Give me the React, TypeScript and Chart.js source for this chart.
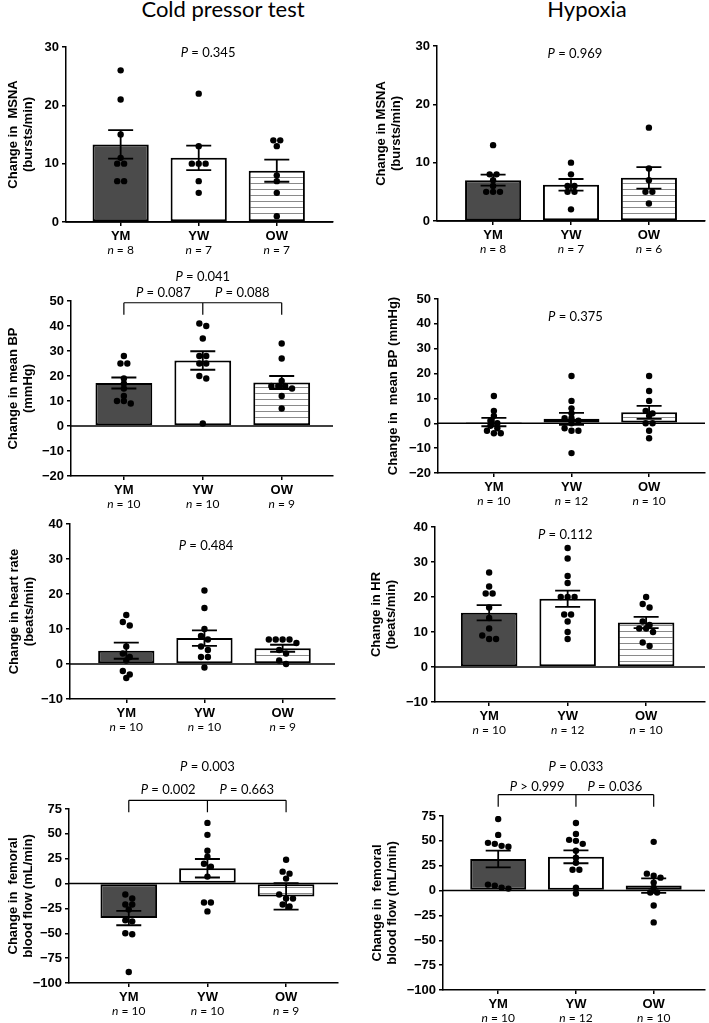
import React, { useEffect, useRef } from 'react';
import { Chart, registerables } from 'chart.js';

Chart.register(...registerables);

// ---------- data ----------
const groups = ['YM', 'YW', 'OW'];

// Cold pressor test – MSNA
const cptMsnaMean = [13.3, 11.0, 8.8];
const cptMsnaSem = [2.45, 2.1, 1.9];
const cptMsnaN = [8, 7, 7];
const cptMsnaYM = [26, 21, 15, 11, 10, 10, 7, 7];
const cptMsnaYW = [22, 13, 10, 10, 10, 7, 5];
const cptMsnaOW = [14, 14, 13, 8, 7, 5, 1];
const msnaTicks = [0, 10, 20, 30];

// Hypoxia – MSNA
const hypMsnaMean = [7.0, 6.2, 7.4];
const hypMsnaSem = [0.95, 1.0, 1.85];
const hypMsnaN = [8, 7, 6];
const hypMsnaYM = [13, 8, 8, 7, 6, 5, 5, 5];
const hypMsnaYW = [10, 8, 6, 6, 5, 5, 2];
const hypMsnaOW = [16, 9, 7, 5, 5, 3];

// Cold pressor test – mean BP
const cptMapMean = [17.2, 26.2, 17.4];
const cptMapSem = [2.2, 3.7, 2.6];
const cptMapN = [10, 10, 9];
const cptMapYM = [28, 25, 25, 19, 17, 15, 12, 10, 10, 9];
const cptMapYW = [41, 40, 35, 28, 28, 25, 25, 20, 19, 1];
const cptMapOW = [33, 27, 18, 16, 16, 16, 15, 12, 7];
const mapTicks = [-20, -10, 0, 10, 20, 30, 40, 50];

// Hypoxia – mean BP
const hypMapMean = [0.5, 1.8, 4.4];
const hypMapSem = [1.7, 2.4, 2.6];
const hypMapN = [10, 12, 10];
const hypMapYM = [11, 5, 3, 1, 0, -1, -2, -3, -4, -4];
const hypMapYW = [19, 9, 6, 4, 2, 2, 1, 0, -2, -3, -3, -12];
const hypMapOW = [19, 13, 9, 5, 4, 3, 0, 0, -3, -6];

// Cold pressor test – heart rate
const cptHrMean = [3.8, 7.4, 4.5];
const cptHrSem = [2.3, 2.2, 1.0];
const cptHrN = [10, 10, 9];
const cptHrYM = [14, 12, 11, 5, 3, 2, 1, -2, -3, -4];
const cptHrYW = [21, 16, 10, 8, 7, 5, 4, 2, 2, -1];
const cptHrOW = [7, 7, 7, 7, 6, 4, 3, 1, 0];
const hrTicks = [-10, 0, 10, 20, 30, 40];

// Hypoxia – heart rate
const hypHrMean = [15.5, 19.5, 12.7];
const hypHrSem = [2.2, 2.3, 1.6];
const hypHrN = [10, 12, 10];
const hypHrYM = [27, 23, 21, 21, 17, 14, 11, 9, 8, 8];
const hypHrYW = [34, 31, 26, 24, 20, 20, 20, 15, 15, 13, 10, 8];
const hypHrOW = [20, 18, 17, 13, 12, 11, 11, 10, 7, 6];

// Cold pressor test – femoral blood flow
const cptFbfMean = [-34.7, 15.4, -13.0];
const cptFbfSem = [7.2, 9.3, 13.3];
const cptFbfN = [10, 10, 9];
const cptFbfYM = [-11, -15, -21, -21, -26, -37, -38, -50, -51, -89];
const cptFbfYW = [61, 49, 33, 27, 20, 17, 7, -19, -19, -28];
const cptFbfOW = [24, 12, 10, 5, -11, -15, -15, -21, -23];
const fbfTicks = [-100, -75, -50, -25, 0, 25, 50, 75];

// Hypoxia – femoral blood flow
const hypFbfMean = [31.8, 34.0, 5.0];
const hypFbfSem = [8.4, 6.5, 7.3];
const hypFbfN = [10, 12, 10];
const hypFbfYM = [72, 56, 48, 47, 45, 44, 6, 5, 3, 2];
const hypFbfYW = [68, 57, 51, 50, 47, 40, 33, 28, 21, 21, 3, -3];
const hypFbfOW = [49, 17, 15, 13, 8, 3, -2, -2, -15, -32];

// ---------- layout ----------
type Rect = { left: number; top: number; w: number; h: number };
type Area = { l: number; t: number; r: number; b: number };
type Bracket = { level: number; pairGap: number; topGap: number; pairs: { from: number; to: number; text: string }[]; overall: string };
type Panel = {
  rect: Rect;
  area: Area;
  xMin: number;
  xMax: number;
  yTicks: number[];
  yTitle: string[];
  yTitlePad: number;
  means: number[];
  sems: number[];
  ns: number[];
  points: number[][];
  pLabel?: { text: string; x: number; y: number };
  bracket?: Bracket;
};

const panels: Panel[] = [
  {
    rect: { left: 0, top: 28, w: 352, h: 236 }, area: { l: 66, t: 47, r: 333, b: 222 },
    xMin: -0.7, xMax: 2.72, yTicks: msnaTicks, yTitle: ['Change in  MSNA', '(bursts/min)'], yTitlePad: 5.5,
    means: cptMsnaMean, sems: cptMsnaSem, ns: cptMsnaN, points: [cptMsnaYM, cptMsnaYW, cptMsnaOW],
    pLabel: { text: 'P = 0.345', x: 1.12, y: 29 },
  },
  {
    rect: { left: 355, top: 28, w: 354, h: 236 }, area: { l: 437, t: 46, r: 705, b: 221 },
    xMin: -0.72, xMax: 2.72, yTicks: msnaTicks, yTitle: ['Change in MSNA', '(bursts/min)'], yTitlePad: 18.5,
    means: hypMsnaMean, sems: hypMsnaSem, ns: hypMsnaN, points: [hypMsnaYM, hypMsnaYW, hypMsnaOW],
    pLabel: { text: 'P = 0.969', x: 1.05, y: 28.6 },
  },
  {
    rect: { left: 0, top: 262, w: 352, h: 250 }, area: { l: 71, t: 301, r: 333, b: 476 },
    xMin: -0.67, xMax: 2.65, yTicks: mapTicks, yTitle: ['Change in mean BP', '(mmHg)'], yTitlePad: 5.5,
    means: cptMapMean, sems: cptMapSem, ns: cptMapN, points: [cptMapYM, cptMapYW, cptMapOW],
    bracket: { level: 49.3, pairGap: 10, topGap: 26, pairs: [{ from: 0, to: 1, text: 'P = 0.087' }, { from: 1, to: 2, text: 'P = 0.088' }], overall: 'P = 0.041' },
  },
  {
    rect: { left: 355, top: 262, w: 354, h: 250 }, area: { l: 438, t: 299, r: 705, b: 473 },
    xMin: -0.72, xMax: 2.72, yTicks: mapTicks, yTitle: ['Change in  mean BP (mmHg)'], yTitlePad: 30.5,
    means: hypMapMean, sems: hypMapSem, ns: hypMapN, points: [hypMapYM, hypMapYW, hypMapOW],
    pLabel: { text: 'P = 0.375', x: 1.05, y: 42.9 },
  },
  {
    rect: { left: 0, top: 512, w: 352, h: 235 }, area: { l: 70, t: 524, r: 335, b: 699 },
    xMin: -0.72, xMax: 2.67, yTicks: hrTicks, yTitle: ['Change in heart rate', '(beats/min)'], yTitlePad: 7,
    means: cptHrMean, sems: cptHrSem, ns: cptHrN, points: [cptHrYM, cptHrYW, cptHrOW],
    pLabel: { text: 'P = 0.484', x: 1.02, y: 33.9 },
  },
  {
    rect: { left: 355, top: 512, w: 354, h: 235 }, area: { l: 435, t: 527, r: 705, b: 702 },
    xMin: -0.69, xMax: 2.75, yTicks: hrTicks, yTitle: ['Change in HR', '(beats/min)'], yTitlePad: 13.5,
    means: hypHrMean, sems: hypHrSem, ns: hypHrN, points: [hypHrYM, hypHrYW, hypHrOW],
    pLabel: { text: 'P = 0.112', x: 0.97, y: 37.9 },
  },
  {
    rect: { left: 0, top: 750, w: 352, h: 273 }, area: { l: 69, t: 809, r: 338, b: 983 },
    xMin: -0.76, xMax: 2.66, yTicks: fbfTicks, yTitle: ['Change in  femoral', 'blood flow (mL/min)'], yTitlePad: 5.5,
    means: cptFbfMean, sems: cptFbfSem, ns: cptFbfN, points: [cptFbfYM, cptFbfYW, cptFbfOW],
    bracket: { level: 83.7, pairGap: 11, topGap: 34, pairs: [{ from: 0, to: 1, text: 'P = 0.002' }, { from: 1, to: 2, text: 'P = 0.663' }], overall: 'P = 0.003' },
  },
  {
    rect: { left: 355, top: 750, w: 354, h: 273 }, area: { l: 443, t: 816, r: 708, b: 990 },
    xMin: -0.71, xMax: 2.66, yTicks: fbfTicks, yTitle: ['Change in  femoral', 'blood flow (mL/min)'], yTitlePad: 15,
    means: hypFbfMean, sems: hypFbfSem, ns: hypFbfN, points: [hypFbfYM, hypFbfYW, hypFbfOW],
    bracket: { level: 96.4, pairGap: 8, topGap: 28, pairs: [{ from: 0, to: 1, text: 'P > 0.999' }, { from: 1, to: 2, text: 'P = 0.036' }], overall: 'P = 0.033' },
  },
];

const SANS = '"Liberation Sans", Arial, sans-serif';
const TEXT = 'Lato, "Open Sans", sans-serif';
const DOT_R = 3.2;

function makeHatch(ctx: CanvasRenderingContext2D) {
  const c = document.createElement('canvas');
  c.width = 8;
  c.height = 6;
  const g = c.getContext('2d')!;
  g.fillStyle = '#ffffff';
  g.fillRect(0, 0, 8, 6);
  g.strokeStyle = '#8a8a8a';
  g.lineWidth = 1;
  g.beginPath();
  g.moveTo(0, 5.5);
  g.lineTo(8, 5.5);
  g.stroke();
  return ctx.createPattern(c, 'repeat')!;
}

function drawMixed(ctx: CanvasRenderingContext2D, text: string, cx: number, cy: number, size: number) {
  const first = text.charAt(0);
  const rest = text.slice(1);
  ctx.font = `italic ${size}px ${TEXT}`;
  const w1 = ctx.measureText(first).width;
  ctx.font = `${size}px ${TEXT}`;
  const w2 = ctx.measureText(rest).width;
  const x = cx - (w1 + w2) / 2;
  ctx.textBaseline = 'middle';
  ctx.textAlign = 'left';
  ctx.fillStyle = '#000';
  ctx.font = `italic ${size}px ${TEXT}`;
  ctx.fillText(first, x, cy);
  ctx.font = `${size}px ${TEXT}`;
  ctx.fillText(rest, x + w1, cy);
}

function swarm(vals: number[], gi: number, tolUnits: number, step: number) {
  const sorted = [...vals].sort((a, b) => b - a);
  const rows: number[][] = [];
  for (const v of sorted) {
    const row = rows[rows.length - 1];
    if (row && Math.abs(row[0] - v) <= tolUnits) row.push(v);
    else rows.push([v]);
  }
  const out: { x: number; y: number }[] = [];
  rows.forEach((row) => row.forEach((v, j) => out.push({ x: gi + (j - (row.length - 1) / 2) * step, y: v })));
  return out;
}

const fmt = (v: number) => (v < 0 ? '\u2212' + Math.abs(v) : String(v));

function PanelChart({ p }: { p: Panel }) {
  const ref = useRef<HTMLCanvasElement>(null);
  useEffect(() => {
    const canvas = ref.current!;
    const ctx = canvas.getContext('2d')!;
    const hatch = makeHatch(ctx);
    const yMin = p.yTicks[0];
    const yMax = p.yTicks[p.yTicks.length - 1];
    const pxPerUnit = (p.area.b - p.area.t) / (yMax - yMin);
    const spacingPx = (p.area.r - p.area.l) / (p.xMax - p.xMin);
    const tol = (0.75 * 2 * DOT_R) / pxPerUnit;
    const step = 6.9 / spacingPx;
    const scatter = p.points.flatMap((vals, gi) => swarm(vals, gi, tol, step));

    const overlay = {
      id: 'overlay',
      beforeDatasetsDraw(chart: any) {
        const { ctx: c, chartArea } = chart;
        const ys = chart.scales.y;
        const y0 = ys.getPixelForValue(0);
        c.save();
        c.strokeStyle = '#000';
        c.lineWidth = 1.5;
        c.beginPath();
        c.moveTo(chartArea.left, y0);
        c.lineTo(chartArea.right, y0);
        c.stroke();
        c.restore();
      },
      afterDatasetsDraw(chart: any) {
        const c = chart.ctx;
        const xs = chart.scales.x;
        const ys = chart.scales.y;
        c.save();
        c.strokeStyle = '#000';
        c.lineWidth = 1.8;
        p.means.forEach((m, i) => {
          const x = xs.getPixelForValue(i);
          const y1 = ys.getPixelForValue(m + p.sems[i]);
          const y2 = ys.getPixelForValue(m - p.sems[i]);
          c.beginPath();
          c.moveTo(x, y1);
          c.lineTo(x, y2);
          c.moveTo(x - 12.5, y1);
          c.lineTo(x + 12.5, y1);
          c.moveTo(x - 12.5, y2);
          c.lineTo(x + 12.5, y2);
          c.stroke();
        });
        c.restore();
      },
      afterDraw(chart: any) {
        const c = chart.ctx;
        const xs = chart.scales.x;
        const ys = chart.scales.y;
        const { chartArea } = chart;
        c.save();
        p.ns.forEach((n, i) => {
          drawMixed(c, 'n = ' + n, xs.getPixelForValue(i), chartArea.bottom + 28, 12);
        });
        if (p.pLabel) {
          drawMixed(c, p.pLabel.text, xs.getPixelForValue(p.pLabel.x), ys.getPixelForValue(p.pLabel.y), 13);
        }
        if (p.bracket) {
          const b = p.bracket;
          const y = ys.getPixelForValue(b.level);
          const gx = groups.map((_, i) => xs.getPixelForValue(i));
          c.strokeStyle = '#000';
          c.lineWidth = 1.2;
          c.beginPath();
          c.moveTo(gx[0], y);
          c.lineTo(gx[2], y);
          gx.forEach((x) => {
            c.moveTo(x, y);
            c.lineTo(x, y + 12);
          });
          c.stroke();
          b.pairs.forEach((pr) => {
            drawMixed(c, pr.text, (gx[pr.from] + gx[pr.to]) / 2, y - b.pairGap, 13);
          });
          drawMixed(c, b.overall, gx[1], y - b.topGap, 13);
        }
        c.restore();
      },
    };

    const chart = new Chart(canvas, {
      type: 'bar',
      data: {
        datasets: [
          {
            type: 'bar',
            data: p.means.map((m, i) => ({ x: i, y: m })) as any,
            backgroundColor: ['#4b4b4b', '#ffffff', hatch] as any,
            borderColor: '#000',
            borderWidth: 2,
            borderSkipped: false,
            order: 2,
          } as any,
          {
            type: 'scatter',
            data: scatter as any,
            pointRadius: DOT_R,
            pointBackgroundColor: '#000',
            pointBorderWidth: 0,
            order: 1,
          } as any,
        ],
      },
      options: {
        responsive: false,
        animation: false,
        layout: {
          padding: {
            top: p.area.t - p.rect.top,
            right: p.rect.left + p.rect.w - p.area.r,
            left: 0,
            bottom: 0,
          },
        },
        plugins: { legend: { display: false }, tooltip: { enabled: false } },
        scales: {
          x: {
            type: 'linear',
            min: p.xMin,
            max: p.xMax,
            offset: false,
            afterBuildTicks: (s: any) => {
              s.ticks = groups.map((_, i) => ({ value: i }));
            },
            afterFit: (s: any) => {
              s.height = p.rect.top + p.rect.h - p.area.b;
            },
            ticks: {
              callback: (v: any) => groups[Math.round(Number(v))] ?? '',
              font: { family: SANS, size: 13, weight: 'bold' },
              color: '#000',
              padding: 3,
              autoSkip: false,
              maxRotation: 0,
            },
            grid: { display: true, drawOnChartArea: false, drawTicks: true, tickLength: 4, color: '#000', lineWidth: 1.5, offset: false },
            border: { display: true, color: '#000', width: 1.5 },
          } as any,
          y: {
            type: 'linear',
            min: yMin,
            max: yMax,
            afterBuildTicks: (s: any) => {
              s.ticks = p.yTicks.map((v) => ({ value: v }));
            },
            afterFit: (s: any) => {
              s.width = p.area.l - p.rect.left;
            },
            ticks: {
              callback: (v: any) => fmt(Number(v)),
              font: { family: SANS, size: 13, weight: 'bold' },
              color: '#000',
              padding: 3,
            },
            grid: { display: true, drawOnChartArea: false, drawTicks: true, tickLength: 4, color: '#000', lineWidth: 1.5 },
            border: { display: true, color: '#000', width: 1.5 },
            title: {
              display: true,
              text: p.yTitle,
              font: { family: SANS, size: 13, weight: 'bold', lineHeight: 1.15 },
              color: '#000',
              padding: { top: p.yTitlePad, bottom: 0 },
            },
          } as any,
        },
      },
      plugins: [overlay],
    });
    return () => chart.destroy();
  }, [p]);
  return (
    <canvas
      ref={ref}
      width={p.rect.w}
      height={p.rect.h}
      style={{ position: 'absolute', left: p.rect.left, top: p.rect.top, width: p.rect.w, height: p.rect.h }}
    />
  );
}

const titleStyle = (cx: number): React.CSSProperties => ({
  position: 'absolute',
  left: cx - 150,
  width: 300,
  top: -2,
  textAlign: 'center',
  fontFamily: TEXT,
  fontSize: 22,
  lineHeight: '22px',
  color: '#000',
});

export default function App() {
  return (
    <div style={{ position: 'absolute', left: 0, top: 0, width: 709, height: 1023, background: '#fff', overflow: 'hidden' }}>
      <div style={titleStyle(223)}>Cold pressor test</div>
      <div style={titleStyle(587)}>Hypoxia</div>
      {panels.map((p, i) => (
        <PanelChart key={i} p={p} />
      ))}
    </div>
  );
}
